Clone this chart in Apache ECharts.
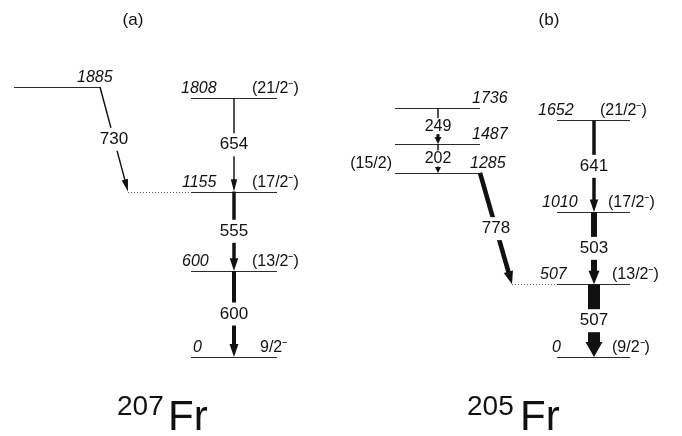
<!DOCTYPE html>
<html><head><meta charset="utf-8">
<script src="https://cdn.jsdelivr.net/npm/echarts@6/dist/echarts.min.js"></script>
<style>html,body{margin:0;padding:0;background:#fff}#c{width:682px;height:436px}</style>
</head><body><div id="c"></div>
<script>
// ---------------- DATA ----------------
// (a) 207Fr
const levelEnergiesA = [0, 600, 1155, 1808, 1885];
const levelSpinsA = ['9/2⁻', '(13/2⁻)', '(17/2⁻)', '(21/2⁻)', ''];
const gammaEnergiesA = [600, 555, 654, 730];
const gammaFromA = [600, 1155, 1808, 1885];
const gammaToA = [0, 600, 1155, 1155];
const gammaIntensityA = [33, 29, 12, 12];

// (b) 205Fr
const levelEnergiesB = [0, 507, 1010, 1652, 1285, 1487, 1736];
const levelSpinsB = ['(9/2⁻)', '(13/2⁻)', '(17/2⁻)', '(21/2⁻)', '(15/2)', '', ''];
const gammaEnergiesB = [507, 503, 641, 778, 202, 249];
const gammaFromB = [507, 1010, 1652, 1285, 1487, 1736];
const gammaToB = [0, 507, 1010, 507, 1285, 1487];
const gammaIntensityB = [100, 50, 29, 38, 12, 12];

const panelTitles = ['(a)', '(b)'];
const nucleusMass = ['207', '205'];
const nucleusSymbol = ['Fr', 'Fr'];

// ---------------- LAYOUT (horizontal placement, px) ----------------
const levelLayoutA = [
  {x0: 191, x1: 277, ex: 193, sx: 260},
  {x0: 191, x1: 277, ex: 182, sx: 252},
  {x0: 191, x1: 277, ex: 182, sx: 252, dotFrom: 128},
  {x0: 191, x1: 277, ex: 181, sx: 252},
  {x0: 14,  x1: 100, ex: 77}
];
const gammaLayoutA = [
  {xf: 234, xt: 234}, {xf: 234, xt: 234}, {xf: 234, xt: 234}, {xf: 100, xt: 128}
];
const levelLayoutB = [
  {x0: 557, x1: 630, ex: 552, sx: 612},
  {x0: 557, x1: 630, ex: 540, sx: 612, dotFrom: 512},
  {x0: 557, x1: 630, ex: 542, sx: 608},
  {x0: 557, x1: 630, ex: 538, sx: 600},
  {x0: 395, x1: 480, ex: 470, sx: 392, sAlign: 'right'},
  {x0: 395, x1: 480, ex: 472},
  {x0: 395, x1: 480, ex: 472}
];
const gammaLayoutB = [
  {xf: 594, xt: 594}, {xf: 594, xt: 594}, {xf: 594, xt: 594},
  {xf: 480, xt: 512},
  {xf: 438, xt: 438, hw: 6, hl: 6, pad: [0, 1, 0, 1], fs: 16},
  {xf: 438, xt: 438, hw: 7, hl: 7, pad: [0, 1, 0, 1], fs: 16, lw2: 3}
];
const WIDTH_PER_INTENSITY = 0.12;
const FONT = '"Liberation Sans", Arial, Helvetica, sans-serif';

// ---------------- BUILD ----------------
const levels = [];
[[levelEnergiesA, levelSpinsA, levelLayoutA], [levelEnergiesB, levelSpinsB, levelLayoutB]].forEach(([E, S, L]) => {
  E.forEach((e, i) => levels.push(Object.assign({E: e, spin: S[i]}, L[i])));
});
const gammas = [];
[[gammaEnergiesA, gammaFromA, gammaToA, gammaIntensityA, gammaLayoutA],
 [gammaEnergiesB, gammaFromB, gammaToB, gammaIntensityB, gammaLayoutB]].forEach(([G, F, T, I, L]) => {
  G.forEach((g, i) => gammas.push(Object.assign({g: g, from: F[i], to: T[i], inten: I[i]}, L[i])));
});

function levelRender(params, api) {
  const L = levels[params.dataIndex];
  const p0 = api.coord([L.x0, L.E]);
  const p1 = api.coord([L.x1, L.E]);
  const y = Math.round(p0[1]) + 0.5;
  const ch = [{type: 'line', shape: {x1: p0[0], y1: y, x2: p1[0], y2: y}, style: {stroke: '#2a2a2a', lineWidth: 1}}];
  if (L.dotFrom != null) {
    const pd = api.coord([L.dotFrom, L.E]);
    ch.push({type: 'line', shape: {x1: pd[0], y1: y, x2: p0[0], y2: y}, style: {stroke: '#555', lineWidth: 1, lineDash: [1, 2]}});
  }
  const pe = api.coord([L.ex, L.E]);
  ch.push({type: 'text', style: {text: String(L.E), x: pe[0], y: y - 2, fontSize: 16, fontStyle: 'italic', fontFamily: FONT,
    fill: '#111', align: 'left', verticalAlign: 'bottom'}});
  if (L.spin) {
    const ps = api.coord([L.sx, L.E]);
    ch.push({type: 'text', style: {text: L.spin, x: ps[0], y: y - 2, fontSize: 16, fontFamily: FONT,
      fill: '#111', align: L.sAlign || 'left', verticalAlign: 'bottom'}});
  }
  return {type: 'group', children: ch};
}

function gammaRender(params, api) {
  const G = gammas[params.dataIndex];
  const pf = api.coord([G.xf, G.from]);
  const pt = api.coord([G.xt, G.to]);
  const lw = G.inten * WIDTH_PER_INTENSITY;
  const hw = G.hw || (lw + 5);
  const hl = G.hl || (12 + lw * 0.25);
  const dx = pt[0] - pf[0], dy = pt[1] - pf[1];
  const len = Math.sqrt(dx * dx + dy * dy);
  const ux = dx / len, uy = dy / len;
  const bx = pt[0] - ux * hl, by = pt[1] - uy * hl;
  const px = -uy, py = ux;
  const mx = (pf[0] + pt[0]) / 2, my = (pf[1] + pt[1]) / 2;
  const ch = [
    {type: 'line', shape: {x1: pf[0], y1: pf[1], x2: bx + ux * 1, y2: by + uy * 1}, style: {stroke: '#111', lineWidth: lw, lineCap: 'butt'}}
  ];
  if (G.lw2) {
    ch.push({type: 'line', shape: {x1: mx + ux * 6, y1: my + uy * 6, x2: bx + ux, y2: by + uy}, style: {stroke: '#111', lineWidth: G.lw2, lineCap: 'butt'}});
  }
  ch.push(
    {type: 'polygon', shape: {points: [[pt[0], pt[1]], [bx + px * hw / 2, by + py * hw / 2], [bx - px * hw / 2, by - py * hw / 2]]}, style: {fill: '#111'}},
    {type: 'text', style: {text: String(G.g), x: mx, y: my, fontSize: G.fs || 17, fontFamily: FONT,
      fill: '#111', align: 'center', verticalAlign: 'middle', backgroundColor: '#fff', padding: G.pad || [3, 1, 3, 1]}}
  );
  return {type: 'group', children: ch};
}

const chart = echarts.init(document.getElementById('c'), null, {renderer: 'canvas'});
const graphics = [];
[[133, 117, 168], [549, 467, 520]].forEach(([tx, mx, sx], i) => {
  graphics.push({type: 'text', x: tx, y: 20, style: {text: panelTitles[i], fontSize: 17, fontFamily: FONT, fill: '#111', align: 'center', verticalAlign: 'middle'}});
  graphics.push({type: 'text', x: mx, y: 393, style: {text: nucleusMass[i], fontSize: 28, fontFamily: FONT, fill: '#111', align: 'left', verticalAlign: 'top'}});
  graphics.push({type: 'text', x: sx, y: 397, style: {text: nucleusSymbol[i], fontSize: 42, fontFamily: FONT, fill: '#111', align: 'left', verticalAlign: 'top'}});
});

chart.setOption({
  animation: false,
  backgroundColor: '#fff',
  grid: {left: 0, right: 0, top: 70.5, bottom: 79},
  xAxis: {type: 'value', min: 0, max: 682, show: false},
  yAxis: {type: 'value', min: 0, max: 2000, show: false},
  graphic: graphics,
  series: [
    {type: 'custom', name: 'levels', clip: false, renderItem: levelRender,
      encode: {x: 0, y: 1}, data: levels.map(L => [L.x0, L.E])},
    {type: 'custom', name: 'transitions', clip: false, renderItem: gammaRender,
      encode: {x: 0, y: 1}, data: gammas.map(G => [G.xf, G.from])}
  ]
});
</script></body></html>
